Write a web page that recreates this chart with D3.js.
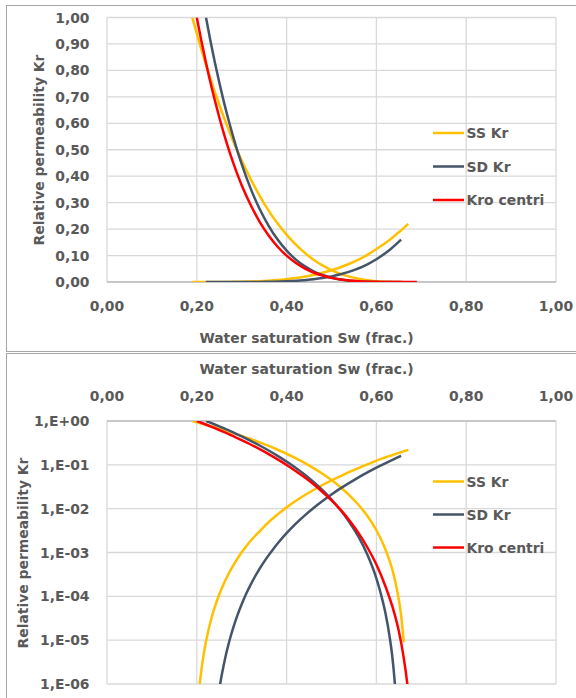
<!DOCTYPE html>
<html>
<head>
<meta charset="utf-8">
<script src="https://cdn.jsdelivr.net/npm/d3@7"></script>
<style>
  html, body { margin: 0; padding: 0; background: #ffffff; }
  svg { display: block; }
  text { font-family: "DejaVu Sans", sans-serif; font-weight: bold; fill: #595959; font-size: 13.9px; }
</style>
</head>
<body>
<svg id="chart" width="576" height="698"></svg>
<script>
// ---- Data: relative permeability vs water saturation ----
const seriesNames  = ["SS Kr", "SD Kr", "Kro centri"];
const seriesColors = ["#FFC000", "#44546A", "#FF0000"];

// SS Kr – oil branch [Sw, Kr]
const ssKro = [
  [0.190, 1.000], [0.200, 0.939], [0.210, 0.880], [0.220, 0.824], [0.230, 0.771],
  [0.240, 0.719], [0.250, 0.671], [0.260, 0.624], [0.270, 0.580], [0.280, 0.537],
  [0.300, 0.459], [0.320, 0.389], [0.340, 0.326], [0.360, 0.270], [0.380, 0.221],
  [0.400, 0.179], [0.420, 0.142], [0.440, 0.111], [0.460, 0.0844], [0.480, 0.0626],
  [0.500, 0.0449], [0.520, 0.0309], [0.540, 0.0202], [0.560, 0.0123], [0.580, 0.00677],
  [0.600, 0.00322], [0.620, 0.00119], [0.630, 0.00062], [0.640, 0.00027], [0.650, 0.000083],
  [0.655, 0.000037], [0.661, 0.000009]
];
// SS Kr – water branch
const ssKrw = [
  [0.190, 0], [0.200, 0.00000016], [0.205, 0.0000007], [0.210, 0.000002], [0.215, 0.0000045],
  [0.220, 0.0000088], [0.225, 0.0000154], [0.230, 0.000025], [0.235, 0.0000387], [0.240, 0.000057],
  [0.250, 0.000110], [0.260, 0.000194], [0.270, 0.000315], [0.280, 0.00048], [0.300, 0.00101],
  [0.320, 0.00185], [0.340, 0.00305], [0.360, 0.00494], [0.380, 0.00741], [0.400, 0.0107],
  [0.420, 0.0149], [0.440, 0.0202], [0.460, 0.0267], [0.480, 0.0347], [0.500, 0.0443],
  [0.520, 0.0556], [0.540, 0.0690], [0.560, 0.0844], [0.580, 0.1023], [0.600, 0.125],
  [0.630, 0.160], [0.650, 0.188], [0.671, 0.220]
];
// SD Kr – oil branch
const sdKro = [
  [0.2205, 1.000], [0.230, 0.915], [0.240, 0.832], [0.250, 0.755], [0.260, 0.683],
  [0.270, 0.617], [0.280, 0.555], [0.290, 0.498], [0.300, 0.446], [0.320, 0.353],
  [0.340, 0.276], [0.360, 0.2125], [0.380, 0.1605], [0.400, 0.1186], [0.420, 0.0856],
  [0.440, 0.0600], [0.460, 0.0406], [0.480, 0.0263], [0.500, 0.0162], [0.520, 0.0093],
  [0.540, 0.0049], [0.560, 0.00229], [0.580, 0.00089], [0.600, 0.000257], [0.610, 0.000113],
  [0.620, 0.000042], [0.630, 0.000011], [0.635, 0.0000046], [0.640, 0.0000014],
  [0.645, 0.00000028], [0.655, 0]
];
// SD Kr – water branch
const sdKrw = [
  [0.220, 0], [0.240, 0.00000011], [0.245, 0.00000031], [0.250, 0.00000073], [0.255, 0.0000015],
  [0.260, 0.0000027], [0.265, 0.0000047], [0.270, 0.0000076], [0.275, 0.0000118], [0.280, 0.0000176],
  [0.290, 0.0000358], [0.300, 0.000066], [0.310, 0.000114], [0.320, 0.000185], [0.330, 0.000287],
  [0.340, 0.00043], [0.355, 0.000735], [0.370, 0.00119], [0.385, 0.00185], [0.400, 0.00276],
  [0.415, 0.00399], [0.430, 0.0056], [0.445, 0.00771], [0.460, 0.0104], [0.480, 0.0150],
  [0.500, 0.0211], [0.520, 0.0290], [0.550, 0.0449], [0.580, 0.0670], [0.600, 0.086],
  [0.630, 0.122], [0.655, 0.160]
];
// Kro centri
const kroCentri = [
  [0.200, 1.000], [0.210, 0.913], [0.220, 0.833], [0.230, 0.757], [0.240, 0.688],
  [0.250, 0.623], [0.260, 0.563], [0.270, 0.507], [0.280, 0.456], [0.290, 0.409],
  [0.300, 0.366], [0.320, 0.291], [0.340, 0.2275], [0.360, 0.1757], [0.380, 0.1334],
  [0.400, 0.0995], [0.420, 0.0726], [0.440, 0.0518], [0.460, 0.0359], [0.480, 0.0240],
  [0.500, 0.0155], [0.520, 0.0095], [0.540, 0.0054], [0.560, 0.0028], [0.580, 0.0013],
  [0.600, 0.00053], [0.620, 0.00017], [0.640, 0.000041], [0.650, 0.000016], [0.660, 0.0000045],
  [0.670, 0.00000077], [0.680, 0.000000037], [0.690, 0]
];

// Ticks
const xTicks       = [0, 0.2, 0.4, 0.6, 0.8, 1.0];
const xTickLabels  = ["0,00", "0,20", "0,40", "0,60", "0,80", "1,00"];
const yLinTicks    = [0, 0.1, 0.2, 0.3, 0.4, 0.5, 0.6, 0.7, 0.8, 0.9, 1.0];
const yLinLabels   = ["0,00", "0,10", "0,20", "0,30", "0,40", "0,50", "0,60", "0,70", "0,80", "0,90", "1,00"];
const yLogTicks    = [1, 1e-1, 1e-2, 1e-3, 1e-4, 1e-5, 1e-6];
const yLogLabels   = ["1,E+00", "1,E-01", "1,E-02", "1,E-03", "1,E-04", "1,E-05", "1,E-06"];

const xTitle = "Water saturation Sw (frac.)";
const yTitle = "Relative permeability Kr";

// curves: which series (colour / legend entry) each branch belongs to
const curves = [
  { data: ssKro, s: 0 }, { data: ssKrw, s: 0 },
  { data: sdKro, s: 1 }, { data: sdKrw, s: 1 },
  { data: kroCentri, s: 2 }
];

// ---- Drawing ----
const svg = d3.select("#chart");
const gridColor = "#d9d9d9";
const axisColor = "#bfbfbf";
const frameColor = "#a6a6a6";

const plotLeft = 107, plotRight = 556;
const x = d3.scaleLinear().domain([0, 1]).range([plotLeft, plotRight]);

// chart frames
svg.append("rect").attr("x", 6.5).attr("y", 5.5).attr("width", 600).attr("height", 346)
  .attr("fill", "none").attr("stroke", frameColor).attr("stroke-width", 1);
svg.append("rect").attr("x", 6.5).attr("y", 353.5).attr("width", 600).attr("height", 400)
  .attr("fill", "none").attr("stroke", frameColor).attr("stroke-width", 1);

function drawPanel(opts) {
  const { y, yTicks, yLabels, top, bottom, xLabelY, xTitleY, yTitleX, yTitleY, legendY, isLog, id } = opts;
  const g = svg.append("g");

  svg.append("clipPath").attr("id", id).append("rect")
    .attr("x", plotLeft - 2).attr("y", top).attr("width", plotRight - plotLeft + 4).attr("height", bottom - top);

  // vertical grid
  g.append("g").selectAll("line").data(xTicks).join("line")
    .attr("x1", d => x(d)).attr("x2", d => x(d))
    .attr("y1", top).attr("y2", bottom)
    .attr("stroke", gridColor).attr("stroke-width", 1.3);

  // horizontal grid
  g.append("g").selectAll("line").data(yTicks).join("line")
    .attr("x1", plotLeft).attr("x2", plotRight)
    .attr("y1", d => y(d)).attr("y2", d => y(d))
    .attr("stroke", gridColor).attr("stroke-width", 1.3);

  // horizontal axis line
  const axisY = isLog ? top : bottom;
  g.append("line").attr("x1", plotLeft).attr("x2", plotRight)
    .attr("y1", axisY).attr("y2", axisY)
    .attr("stroke", axisColor).attr("stroke-width", 1.3);

  // y tick labels
  g.append("g").selectAll("text").data(yTicks).join("text")
    .attr("x", 89.5).attr("y", d => y(d) + 5)
    .attr("text-anchor", "end")
    .text((d, i) => yLabels[i]);

  // x tick labels
  g.append("g").selectAll("text").data(xTicks).join("text")
    .attr("x", d => x(d)).attr("y", xLabelY)
    .attr("text-anchor", "middle")
    .text((d, i) => xTickLabels[i]);

  // axis titles
  g.append("text").attr("x", 306.5).attr("y", xTitleY)
    .attr("text-anchor", "middle").text(xTitle);
  g.append("text")
    .attr("transform", `translate(${yTitleX},${yTitleY}) rotate(-90)`)
    .attr("text-anchor", "middle").text(yTitle);

  // curves
  const line = d3.line()
    .x(d => x(d[0]))
    .y(d => y(d[1]))
    .curve(d3.curveMonotoneX);
  const cg = g.append("g").attr("clip-path", `url(#${id})`);
  curves.forEach(c => {
    const pts = isLog ? c.data.filter(d => d[1] > 0) : c.data;
    cg.append("path").datum(pts)
      .attr("d", line)
      .attr("fill", "none")
      .attr("stroke", seriesColors[c.s])
      .attr("stroke-width", 2.5)
      .attr("stroke-linejoin", "round");
  });

  // legend
  const lg = g.append("g");
  seriesNames.forEach((name, i) => {
    const ly = legendY[i];
    lg.append("line").attr("x1", 433).attr("x2", 464).attr("y1", ly).attr("y2", ly)
      .attr("stroke", seriesColors[i]).attr("stroke-width", 2.5);
    lg.append("text").attr("x", 466.5).attr("y", ly + 5).text(name);
  });
}

// linear panel
const yLin = d3.scaleLinear().domain([0, 1]).range([282, 17.5]);
drawPanel({
  id: "clipLin", y: yLin, yTicks: yLinTicks, yLabels: yLinLabels,
  top: 17.5, bottom: 282, isLog: false,
  xLabelY: 310.5, xTitleY: 343, yTitleX: 44, yTitleY: 150,
  legendY: [133, 166.5, 200]
});

// logarithmic panel
const yLog = d3.scaleLog().domain([1e-6, 1]).range([684, 421]);
drawPanel({
  id: "clipLog", y: yLog, yTicks: yLogTicks, yLabels: yLogLabels,
  top: 421, bottom: 684, isLog: true,
  xLabelY: 400.5, xTitleY: 374, yTitleX: 28, yTitleY: 553,
  legendY: [481.5, 514.5, 547.5]
});
</script>
</body>
</html>
